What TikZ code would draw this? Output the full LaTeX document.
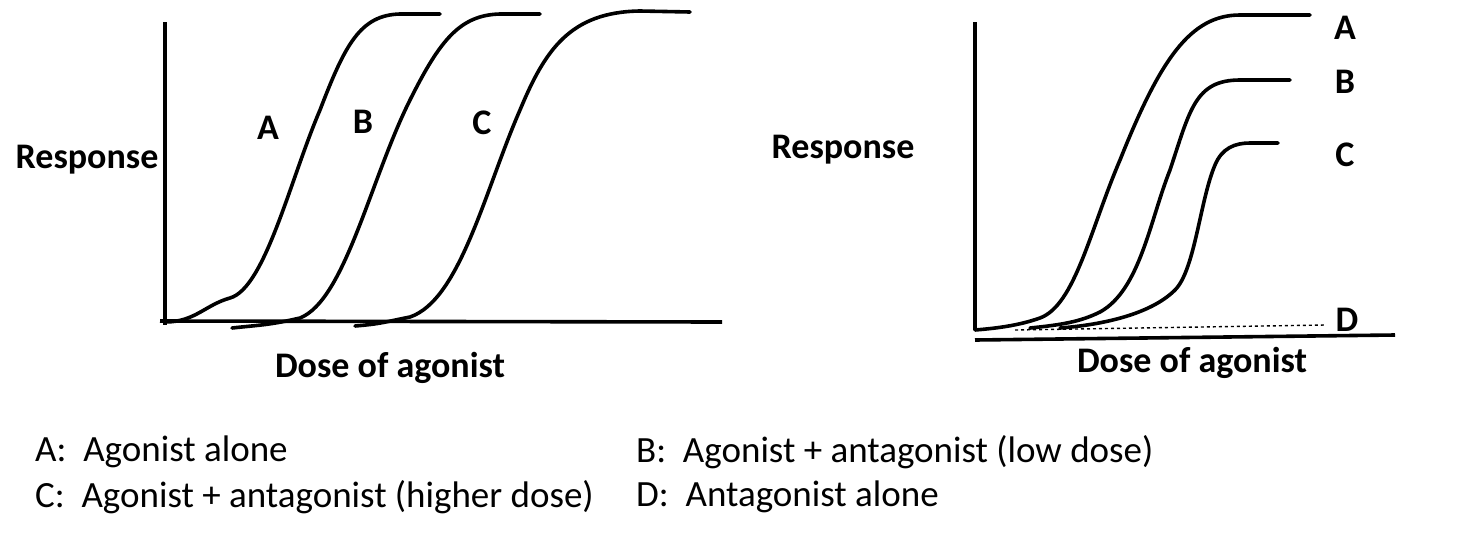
\documentclass[tikz,border=0pt]{standalone}
\usepackage{fontspec}
\setmainfont{Carlito}
\begin{document}
\begin{tikzpicture}[x=1pt,y=-1pt,
  crv/.style={line width=3.6pt,line cap=round},
  axl/.style={line width=3.6pt},
  lab/.style={font=\fontsize{36}{40}\selectfont\bfseries,inner sep=0pt},
  leg/.style={font=\fontsize{37}{40}\selectfont,inner sep=0pt,anchor=west}]
\useasboundingbox (0,0) rectangle (1465,552);
% left panel
\draw[axl] (165,22) -- (165,325);
\draw[axl] (160,321) -- (722,322);
\draw[crv] (165,322) .. controls (195,322) and (205,305) .. (230,298) .. controls (265,288) and (290,180) .. (320,110) .. controls (345,45) and (360,15) .. (400,14) -- (440,14);
\draw[crv] (232,328) .. controls (260,325) and (270,325) .. (300,318) .. controls (345,300) and (370,180) .. (410,100) .. controls (440,40) and (460,15) .. (500,14) -- (540,14);
\draw[crv] (355,326) .. controls (380,324) and (385,322) .. (410,317) .. controls (460,300) and (485,190) .. (520,110) .. controls (545,50) and (570,12) .. (640,11) -- (690,12);
\node[lab] (la) at (268,128) {A};
\node[lab] (lb) at (363,122) {B};
\node[lab] (lc) at (482,123) {C};
\node[lab] (lr) at (87,160) {Response};
\node[lab] (ld) at (390,368) {Dose of agonist};
% right panel
\draw[axl] (975,22) -- (975,330);
\draw[axl] (975,340) -- (1395,335);
\draw[crv] (975,330) .. controls (1000,328) and (1020,325) .. (1040,318) .. controls (1075,305) and (1090,230) .. (1120,160) .. controls (1160,60) and (1190,15) .. (1240,15) -- (1310,15);
\draw[crv] (1030,328) .. controls (1060,325) and (1080,322) .. (1100,312) .. controls (1140,290) and (1150,220) .. (1170,170) .. controls (1190,110) and (1195,80) .. (1240,80) -- (1290,80);
\draw[crv] (1060,328) .. controls (1100,325) and (1150,315) .. (1175,290) .. controls (1195,270) and (1200,200) .. (1215,165) .. controls (1222,148) and (1235,143) .. (1250,143) -- (1278,143);
\draw[line width=1.4pt,dashed] (1015,330) -- (1325,325);
\node[lab] (ra) at (1345,28) {A};
\node[lab] (rb) at (1345,82) {B};
\node[lab] (rc) at (1345,155) {C};
\node[lab] (rd) at (1347,320) {D};
\node[lab] (rr) at (843,150) {Response};
\node[lab] (rdose) at (1192,363) {Dose of agonist};
% legend
\node[leg] (g1) at (35,452) {A:\ \ Agonist alone};
\node[leg] (g2) at (636,452) {B:\ \ Agonist + antagonist (low dose)};
\node[leg] (g3) at (35,497) {C:\ \ Agonist + antagonist (higher dose)};
\node[leg] (g4) at (636,497) {D:\ \ Antagonist alone};
\end{tikzpicture}
\end{document}
